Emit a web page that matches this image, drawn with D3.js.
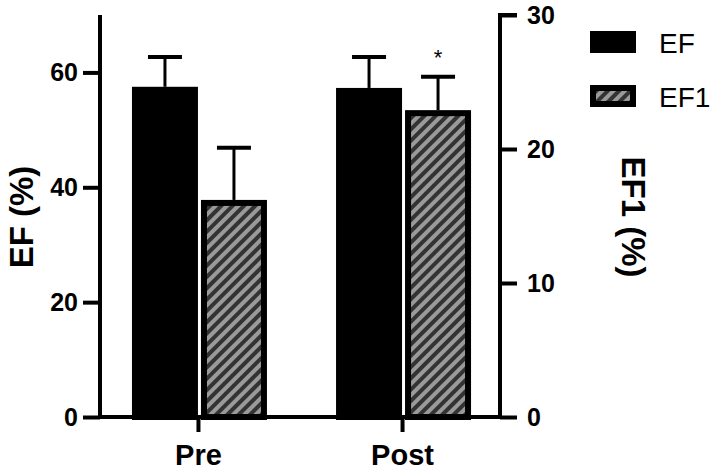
<!DOCTYPE html>
<meta charset='utf-8'>
<head>
    <title>EF bars</title>
    <script src='https://cdn.jsdelivr.net/npm/d3@7'></script>
</head>

<style>
    body { margin: 0; background: white; }
    text { font-family: 'Liberation Sans', Arial, sans-serif; fill: black; }
    .axis path, .axis line { stroke: black; stroke-width: 4px; }
    .axis text { font-weight: bold; font-size: 25px; }
</style>

<svg></svg>

<script>
    var vWidth = 719;
    var vHeight = 472;

    // data
    var groups = ['Pre', 'Post'];
    var efMean = [57.5, 57.3];
    var efErr = [5.2, 5.4];
    var ef1Mean = [16.2, 22.9];
    var ef1Err = [3.9, 2.5];
    var leftTicks = [0, 20, 40, 60];
    var rightTicks = [0, 10, 20, 30];

    var svg = d3.select('svg').attr('width', vWidth).attr('height', vHeight);

    // hatch for EF1
    var pat = svg.append('defs').append('pattern')
        .attr('id', 'hatch').attr('patternUnits', 'userSpaceOnUse')
        .attr('width', 8).attr('height', 8)
        .attr('patternTransform', 'rotate(45)');
    pat.append('rect').attr('width', 8).attr('height', 8).attr('fill', '#333');
    pat.append('rect').attr('width', 4).attr('height', 8).attr('fill', '#9a9a9a');

    var x = d3.scalePoint().domain(groups).range([100, 500]).padding(0.48);
    var yL = d3.scaleLinear().domain([0, 70]).range([417, 15]);
    var yR = d3.scaleLinear().domain([0, 30]).range([417, 15]);
    var barW = 66;

    // bars
    groups.forEach(function (g, i) {
        var c = x(g);
        // EF
        svg.append('line').attr('x1', c - barW / 2).attr('x2', c - barW / 2)
            .attr('y1', yL(efMean[i])).attr('y2', yL(efMean[i] + efErr[i]))
            .attr('stroke', 'black').attr('stroke-width', 3);
        svg.append('line').attr('x1', c - barW / 2 - 17).attr('x2', c - barW / 2 + 17)
            .attr('y1', yL(efMean[i] + efErr[i])).attr('y2', yL(efMean[i] + efErr[i]))
            .attr('stroke', 'black').attr('stroke-width', 4);
        svg.append('rect').attr('x', c - barW + 3).attr('y', yL(efMean[i]) + 3)
            .attr('width', barW - 6).attr('height', yL(0) - yL(efMean[i]) - 3)
            .attr('fill', 'black').attr('stroke', 'black').attr('stroke-width', 6);
        // EF1
        var x0 = c + 3;
        svg.append('line').attr('x1', x0 + barW / 2).attr('x2', x0 + barW / 2)
            .attr('y1', yR(ef1Mean[i])).attr('y2', yR(ef1Mean[i] + ef1Err[i]))
            .attr('stroke', 'black').attr('stroke-width', 3);
        svg.append('line').attr('x1', x0 + barW / 2 - 17).attr('x2', x0 + barW / 2 + 17)
            .attr('y1', yR(ef1Mean[i] + ef1Err[i])).attr('y2', yR(ef1Mean[i] + ef1Err[i]))
            .attr('stroke', 'black').attr('stroke-width', 4);
        svg.append('rect').attr('x', x0 + 3).attr('y', yR(ef1Mean[i]) + 3)
            .attr('width', barW - 6).attr('height', yR(0) - yR(ef1Mean[i]) - 3)
            .attr('fill', 'url(#hatch)').attr('stroke', 'black').attr('stroke-width', 6);
    });

    // significance mark
    svg.append('text').attr('x', x('Post') + 3 + barW / 2).attr('y', yR(ef1Mean[1] + ef1Err[1]) - 12)
        .attr('text-anchor', 'middle').attr('font-size', 22).text('*');

    // axes
    var axL = svg.append('g').attr('class', 'axis').attr('transform', 'translate(100,0)')
        .call(d3.axisLeft(yL).tickValues(leftTicks).tickSize(17).tickPadding(5).tickSizeOuter(0));
    var axR = svg.append('g').attr('class', 'axis').attr('transform', 'translate(500,0)')
        .call(d3.axisRight(yR).tickValues(rightTicks).tickSize(17).tickPadding(10).tickSizeOuter(0));
    var axB = svg.append('g').attr('class', 'axis').attr('transform', 'translate(0,417)')
        .call(d3.axisBottom(x).tickSize(15).tickPadding(12).tickSizeOuter(0));
    axB.selectAll('text').style('font-size', '29px');
    axB.select('.domain').attr('d', 'M98,0H502');
    axL.select('.domain').attr('d', 'M0,417V15');
    axR.select('.domain').attr('d', 'M0,417V15H17');

    // axis titles
    svg.append('text').attr('transform', 'translate(33,217) rotate(-90)')
        .attr('text-anchor', 'middle').attr('font-weight', 'bold').attr('font-size', 33).text('EF (%)');
    svg.append('text').attr('transform', 'translate(622,217) rotate(90)')
        .attr('text-anchor', 'middle').attr('font-weight', 'bold').attr('font-size', 33).text('EF1 (%)');

    // legend
    var leg = [{name: 'EF', fill: 'black'}, {name: 'EF1', fill: 'url(#hatch)'}];
    leg.forEach(function (d, i) {
        var ly = 31 + i * 54;
        svg.append('rect').attr('x', 593).attr('y', ly + 3).attr('width', 40).attr('height', 16)
            .attr('fill', d.fill).attr('stroke', 'black').attr('stroke-width', 6);
        svg.append('text').attr('x', 659).attr('y', ly + 22).attr('font-size', 28).text(d.name);
    });
</script>
